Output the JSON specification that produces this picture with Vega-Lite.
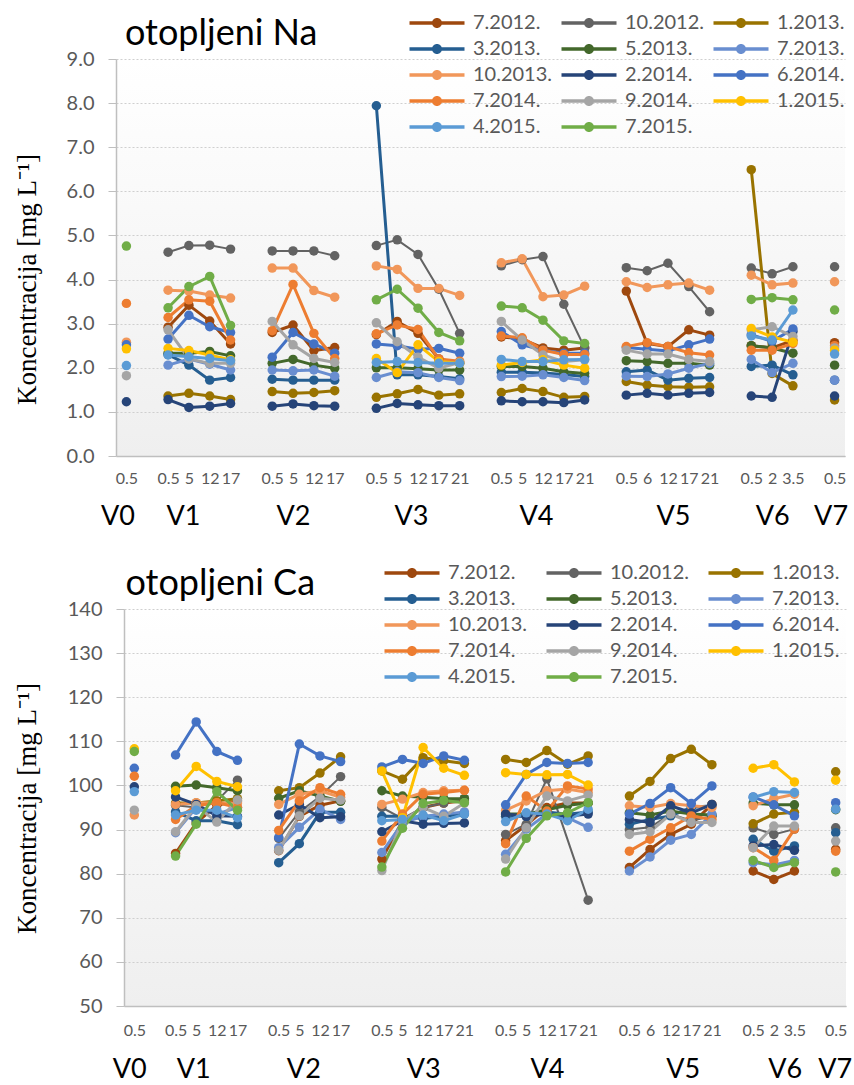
{
  "$schema": "https://vega.github.io/schema/vega-lite/v6.json",
  "background": "white",
  "padding": {"left": 12, "top": 13, "right": 0, "bottom": 0},
  "spacing": 34,
  "resolve": {"legend": {"color": "independent"}},
  "config": {
    "font": "Lato",
    "view": {"stroke": null},
    "legend": {"padding": 0, "offset": 0},
    "title": {"fontWeight": "normal"}
  },
  "datasets": {
    "na": [
      {"s":"7.2012.","g":"V1","x":"V1 0.5","v":2.92},{"s":"7.2012.","g":"V1","x":"V1 5","v":3.42},{"s":"7.2012.","g":"V1","x":"V1 12","v":3.06},{"s":"7.2012.","g":"V1","x":"V1 17","v":2.54},
      {"s":"7.2012.","g":"V2","x":"V2 0.5","v":2.8},{"s":"7.2012.","g":"V2","x":"V2 5","v":2.97},{"s":"7.2012.","g":"V2","x":"V2 12","v":2.39},{"s":"7.2012.","g":"V2","x":"V2 17","v":2.46},
      {"s":"7.2012.","g":"V3","x":"V3 0.5","v":2.75},{"s":"7.2012.","g":"V3","x":"V3 5","v":3.05},{"s":"7.2012.","g":"V3","x":"V3 12","v":2.78},{"s":"7.2012.","g":"V3","x":"V3 17","v":2.2},{"s":"7.2012.","g":"V3","x":"V3 21","v":2.1},
      {"s":"7.2012.","g":"V4","x":"V4 0.5","v":2.7},{"s":"7.2012.","g":"V4","x":"V4 5","v":2.65},{"s":"7.2012.","g":"V4","x":"V4 12","v":2.45},{"s":"7.2012.","g":"V4","x":"V4 17","v":2.4},{"s":"7.2012.","g":"V4","x":"V4 21","v":2.45},
      {"s":"7.2012.","g":"V5","x":"V5 0.5","v":3.74},{"s":"7.2012.","g":"V5","x":"V5 6","v":2.55},{"s":"7.2012.","g":"V5","x":"V5 12","v":2.48},{"s":"7.2012.","g":"V5","x":"V5 17","v":2.86},{"s":"7.2012.","g":"V5","x":"V5 21","v":2.74},
      {"s":"7.2012.","g":"V6","x":"V6 0.5","v":2.5},{"s":"7.2012.","g":"V6","x":"V6 2","v":2.45},{"s":"7.2012.","g":"V6","x":"V6 3.5","v":2.62},
      {"s":"7.2012.","g":"V7","x":"V7 0.5","v":2.57},

      {"s":"10.2012.","g":"V1","x":"V1 0.5","v":4.62},{"s":"10.2012.","g":"V1","x":"V1 5","v":4.77},{"s":"10.2012.","g":"V1","x":"V1 12","v":4.78},{"s":"10.2012.","g":"V1","x":"V1 17","v":4.69},
      {"s":"10.2012.","g":"V2","x":"V2 0.5","v":4.65},{"s":"10.2012.","g":"V2","x":"V2 5","v":4.65},{"s":"10.2012.","g":"V2","x":"V2 12","v":4.65},{"s":"10.2012.","g":"V2","x":"V2 17","v":4.54},
      {"s":"10.2012.","g":"V3","x":"V3 0.5","v":4.77},{"s":"10.2012.","g":"V3","x":"V3 5","v":4.9},{"s":"10.2012.","g":"V3","x":"V3 12","v":4.57},{"s":"10.2012.","g":"V3","x":"V3 17","v":3.78},{"s":"10.2012.","g":"V3","x":"V3 21","v":2.78},
      {"s":"10.2012.","g":"V4","x":"V4 0.5","v":4.31},{"s":"10.2012.","g":"V4","x":"V4 5","v":4.45},{"s":"10.2012.","g":"V4","x":"V4 12","v":4.52},{"s":"10.2012.","g":"V4","x":"V4 17","v":3.44},{"s":"10.2012.","g":"V4","x":"V4 21","v":2.45},
      {"s":"10.2012.","g":"V5","x":"V5 0.5","v":4.27},{"s":"10.2012.","g":"V5","x":"V5 6","v":4.2},{"s":"10.2012.","g":"V5","x":"V5 12","v":4.37},{"s":"10.2012.","g":"V5","x":"V5 17","v":3.84},{"s":"10.2012.","g":"V5","x":"V5 21","v":3.27},
      {"s":"10.2012.","g":"V6","x":"V6 0.5","v":4.26},{"s":"10.2012.","g":"V6","x":"V6 2","v":4.13},{"s":"10.2012.","g":"V6","x":"V6 3.5","v":4.29},
      {"s":"10.2012.","g":"V7","x":"V7 0.5","v":4.29},

      {"s":"1.2013.","g":"V1","x":"V1 0.5","v":1.36},{"s":"1.2013.","g":"V1","x":"V1 5","v":1.42},{"s":"1.2013.","g":"V1","x":"V1 12","v":1.36},{"s":"1.2013.","g":"V1","x":"V1 17","v":1.28},
      {"s":"1.2013.","g":"V2","x":"V2 0.5","v":1.46},{"s":"1.2013.","g":"V2","x":"V2 5","v":1.42},{"s":"1.2013.","g":"V2","x":"V2 12","v":1.44},{"s":"1.2013.","g":"V2","x":"V2 17","v":1.48},
      {"s":"1.2013.","g":"V3","x":"V3 0.5","v":1.33},{"s":"1.2013.","g":"V3","x":"V3 5","v":1.41},{"s":"1.2013.","g":"V3","x":"V3 12","v":1.51},{"s":"1.2013.","g":"V3","x":"V3 17","v":1.38},{"s":"1.2013.","g":"V3","x":"V3 21","v":1.41},
      {"s":"1.2013.","g":"V4","x":"V4 0.5","v":1.44},{"s":"1.2013.","g":"V4","x":"V4 5","v":1.53},{"s":"1.2013.","g":"V4","x":"V4 12","v":1.46},{"s":"1.2013.","g":"V4","x":"V4 17","v":1.33},{"s":"1.2013.","g":"V4","x":"V4 21","v":1.35},
      {"s":"1.2013.","g":"V5","x":"V5 0.5","v":1.69},{"s":"1.2013.","g":"V5","x":"V5 6","v":1.61},{"s":"1.2013.","g":"V5","x":"V5 12","v":1.57},{"s":"1.2013.","g":"V5","x":"V5 17","v":1.56},{"s":"1.2013.","g":"V5","x":"V5 21","v":1.57},
      {"s":"1.2013.","g":"V6","x":"V6 0.5","v":6.49},{"s":"1.2013.","g":"V6","x":"V6 2","v":1.87},{"s":"1.2013.","g":"V6","x":"V6 3.5","v":1.59},
      {"s":"1.2013.","g":"V7","x":"V7 0.5","v":1.27},

      {"s":"3.2013.","g":"V1","x":"V1 0.5","v":2.3},{"s":"3.2013.","g":"V1","x":"V1 5","v":2.06},{"s":"3.2013.","g":"V1","x":"V1 12","v":1.72},{"s":"3.2013.","g":"V1","x":"V1 17","v":1.78},
      {"s":"3.2013.","g":"V2","x":"V2 0.5","v":1.74},{"s":"3.2013.","g":"V2","x":"V2 5","v":1.72},{"s":"3.2013.","g":"V2","x":"V2 12","v":1.72},{"s":"3.2013.","g":"V2","x":"V2 17","v":1.72},
      {"s":"3.2013.","g":"V3","x":"V3 0.5","v":7.94},{"s":"3.2013.","g":"V3","x":"V3 5","v":1.84},{"s":"3.2013.","g":"V3","x":"V3 12","v":1.84},{"s":"3.2013.","g":"V3","x":"V3 17","v":1.8},{"s":"3.2013.","g":"V3","x":"V3 21","v":1.75},
      {"s":"3.2013.","g":"V4","x":"V4 0.5","v":1.9},{"s":"3.2013.","g":"V4","x":"V4 5","v":1.9},{"s":"3.2013.","g":"V4","x":"V4 12","v":1.88},{"s":"3.2013.","g":"V4","x":"V4 17","v":1.85},{"s":"3.2013.","g":"V4","x":"V4 21","v":1.8},
      {"s":"3.2013.","g":"V5","x":"V5 0.5","v":1.91},{"s":"3.2013.","g":"V5","x":"V5 6","v":1.95},{"s":"3.2013.","g":"V5","x":"V5 12","v":1.72},{"s":"3.2013.","g":"V5","x":"V5 17","v":1.76},{"s":"3.2013.","g":"V5","x":"V5 21","v":1.78},
      {"s":"3.2013.","g":"V6","x":"V6 0.5","v":2.03},{"s":"3.2013.","g":"V6","x":"V6 2","v":2.06},{"s":"3.2013.","g":"V6","x":"V6 3.5","v":1.84},
      {"s":"3.2013.","g":"V7","x":"V7 0.5","v":1.72},

      {"s":"5.2013.","g":"V1","x":"V1 0.5","v":2.33},{"s":"5.2013.","g":"V1","x":"V1 5","v":2.33},{"s":"5.2013.","g":"V1","x":"V1 12","v":2.37},{"s":"5.2013.","g":"V1","x":"V1 17","v":2.27},
      {"s":"5.2013.","g":"V2","x":"V2 0.5","v":2.1},{"s":"5.2013.","g":"V2","x":"V2 5","v":2.19},{"s":"5.2013.","g":"V2","x":"V2 12","v":2.06},{"s":"5.2013.","g":"V2","x":"V2 17","v":1.99},
      {"s":"5.2013.","g":"V3","x":"V3 0.5","v":2.0},{"s":"5.2013.","g":"V3","x":"V3 5","v":2.0},{"s":"5.2013.","g":"V3","x":"V3 12","v":1.98},{"s":"5.2013.","g":"V3","x":"V3 17","v":1.95},{"s":"5.2013.","g":"V3","x":"V3 21","v":1.95},
      {"s":"5.2013.","g":"V4","x":"V4 0.5","v":2.03},{"s":"5.2013.","g":"V4","x":"V4 5","v":2.03},{"s":"5.2013.","g":"V4","x":"V4 12","v":1.99},{"s":"5.2013.","g":"V4","x":"V4 17","v":1.91},{"s":"5.2013.","g":"V4","x":"V4 21","v":1.87},
      {"s":"5.2013.","g":"V5","x":"V5 0.5","v":2.16},{"s":"5.2013.","g":"V5","x":"V5 6","v":2.14},{"s":"5.2013.","g":"V5","x":"V5 12","v":2.1},{"s":"5.2013.","g":"V5","x":"V5 17","v":2.1},{"s":"5.2013.","g":"V5","x":"V5 21","v":2.06},
      {"s":"5.2013.","g":"V6","x":"V6 0.5","v":2.5},{"s":"5.2013.","g":"V6","x":"V6 2","v":2.45},{"s":"5.2013.","g":"V6","x":"V6 3.5","v":2.33},
      {"s":"5.2013.","g":"V7","x":"V7 0.5","v":2.06},

      {"s":"7.2013.","g":"V1","x":"V1 0.5","v":2.06},{"s":"7.2013.","g":"V1","x":"V1 5","v":2.2},{"s":"7.2013.","g":"V1","x":"V1 12","v":2.08},{"s":"7.2013.","g":"V1","x":"V1 17","v":1.95},
      {"s":"7.2013.","g":"V2","x":"V2 0.5","v":1.95},{"s":"7.2013.","g":"V2","x":"V2 5","v":1.93},{"s":"7.2013.","g":"V2","x":"V2 12","v":1.95},{"s":"7.2013.","g":"V2","x":"V2 17","v":1.81},
      {"s":"7.2013.","g":"V3","x":"V3 0.5","v":1.78},{"s":"7.2013.","g":"V3","x":"V3 5","v":1.91},{"s":"7.2013.","g":"V3","x":"V3 12","v":1.89},{"s":"7.2013.","g":"V3","x":"V3 17","v":1.78},{"s":"7.2013.","g":"V3","x":"V3 21","v":1.71},
      {"s":"7.2013.","g":"V4","x":"V4 0.5","v":1.8},{"s":"7.2013.","g":"V4","x":"V4 5","v":1.81},{"s":"7.2013.","g":"V4","x":"V4 12","v":1.84},{"s":"7.2013.","g":"V4","x":"V4 17","v":1.78},{"s":"7.2013.","g":"V4","x":"V4 21","v":1.71},
      {"s":"7.2013.","g":"V5","x":"V5 0.5","v":1.81},{"s":"7.2013.","g":"V5","x":"V5 6","v":1.8},{"s":"7.2013.","g":"V5","x":"V5 12","v":1.86},{"s":"7.2013.","g":"V5","x":"V5 17","v":1.99},{"s":"7.2013.","g":"V5","x":"V5 21","v":2.1},
      {"s":"7.2013.","g":"V6","x":"V6 0.5","v":2.19},{"s":"7.2013.","g":"V6","x":"V6 2","v":1.89},{"s":"7.2013.","g":"V6","x":"V6 3.5","v":2.1},
      {"s":"7.2013.","g":"V7","x":"V7 0.5","v":1.72},

      {"s":"10.2013.","g":"V0","x":"V0 0.5","v":2.58},
      {"s":"10.2013.","g":"V1","x":"V1 0.5","v":3.76},{"s":"10.2013.","g":"V1","x":"V1 5","v":3.74},{"s":"10.2013.","g":"V1","x":"V1 12","v":3.65},{"s":"10.2013.","g":"V1","x":"V1 17","v":3.58},
      {"s":"10.2013.","g":"V2","x":"V2 0.5","v":4.26},{"s":"10.2013.","g":"V2","x":"V2 5","v":4.26},{"s":"10.2013.","g":"V2","x":"V2 12","v":3.75},{"s":"10.2013.","g":"V2","x":"V2 17","v":3.6},
      {"s":"10.2013.","g":"V3","x":"V3 0.5","v":4.31},{"s":"10.2013.","g":"V3","x":"V3 5","v":4.23},{"s":"10.2013.","g":"V3","x":"V3 12","v":3.8},{"s":"10.2013.","g":"V3","x":"V3 17","v":3.8},{"s":"10.2013.","g":"V3","x":"V3 21","v":3.64},
      {"s":"10.2013.","g":"V4","x":"V4 0.5","v":4.38},{"s":"10.2013.","g":"V4","x":"V4 5","v":4.47},{"s":"10.2013.","g":"V4","x":"V4 12","v":3.61},{"s":"10.2013.","g":"V4","x":"V4 17","v":3.65},{"s":"10.2013.","g":"V4","x":"V4 21","v":3.85},
      {"s":"10.2013.","g":"V5","x":"V5 0.5","v":3.95},{"s":"10.2013.","g":"V5","x":"V5 6","v":3.82},{"s":"10.2013.","g":"V5","x":"V5 12","v":3.88},{"s":"10.2013.","g":"V5","x":"V5 17","v":3.92},{"s":"10.2013.","g":"V5","x":"V5 21","v":3.76},
      {"s":"10.2013.","g":"V6","x":"V6 0.5","v":4.1},{"s":"10.2013.","g":"V6","x":"V6 2","v":3.88},{"s":"10.2013.","g":"V6","x":"V6 3.5","v":3.92},
      {"s":"10.2013.","g":"V7","x":"V7 0.5","v":3.95},

      {"s":"2.2014.","g":"V0","x":"V0 0.5","v":1.23},
      {"s":"2.2014.","g":"V1","x":"V1 0.5","v":1.28},{"s":"2.2014.","g":"V1","x":"V1 5","v":1.1},{"s":"2.2014.","g":"V1","x":"V1 12","v":1.13},{"s":"2.2014.","g":"V1","x":"V1 17","v":1.19},
      {"s":"2.2014.","g":"V2","x":"V2 0.5","v":1.13},{"s":"2.2014.","g":"V2","x":"V2 5","v":1.18},{"s":"2.2014.","g":"V2","x":"V2 12","v":1.14},{"s":"2.2014.","g":"V2","x":"V2 17","v":1.13},
      {"s":"2.2014.","g":"V3","x":"V3 0.5","v":1.08},{"s":"2.2014.","g":"V3","x":"V3 5","v":1.19},{"s":"2.2014.","g":"V3","x":"V3 12","v":1.16},{"s":"2.2014.","g":"V3","x":"V3 17","v":1.14},{"s":"2.2014.","g":"V3","x":"V3 21","v":1.14},
      {"s":"2.2014.","g":"V4","x":"V4 0.5","v":1.25},{"s":"2.2014.","g":"V4","x":"V4 5","v":1.23},{"s":"2.2014.","g":"V4","x":"V4 12","v":1.23},{"s":"2.2014.","g":"V4","x":"V4 17","v":1.21},{"s":"2.2014.","g":"V4","x":"V4 21","v":1.27},
      {"s":"2.2014.","g":"V5","x":"V5 0.5","v":1.38},{"s":"2.2014.","g":"V5","x":"V5 6","v":1.42},{"s":"2.2014.","g":"V5","x":"V5 12","v":1.38},{"s":"2.2014.","g":"V5","x":"V5 17","v":1.42},{"s":"2.2014.","g":"V5","x":"V5 21","v":1.44},
      {"s":"2.2014.","g":"V6","x":"V6 0.5","v":1.36},{"s":"2.2014.","g":"V6","x":"V6 2","v":1.33},{"s":"2.2014.","g":"V6","x":"V6 3.5","v":2.82},
      {"s":"2.2014.","g":"V7","x":"V7 0.5","v":1.36},

      {"s":"6.2014.","g":"V0","x":"V0 0.5","v":2.52},
      {"s":"6.2014.","g":"V1","x":"V1 0.5","v":2.65},{"s":"6.2014.","g":"V1","x":"V1 5","v":3.19},{"s":"6.2014.","g":"V1","x":"V1 12","v":2.93},{"s":"6.2014.","g":"V1","x":"V1 17","v":2.8},
      {"s":"6.2014.","g":"V2","x":"V2 0.5","v":2.24},{"s":"6.2014.","g":"V2","x":"V2 5","v":2.8},{"s":"6.2014.","g":"V2","x":"V2 12","v":2.54},{"s":"6.2014.","g":"V2","x":"V2 17","v":2.33},
      {"s":"6.2014.","g":"V3","x":"V3 0.5","v":2.54},{"s":"6.2014.","g":"V3","x":"V3 5","v":2.5},{"s":"6.2014.","g":"V3","x":"V3 12","v":2.42},{"s":"6.2014.","g":"V3","x":"V3 17","v":2.44},{"s":"6.2014.","g":"V3","x":"V3 21","v":2.33},
      {"s":"6.2014.","g":"V4","x":"V4 0.5","v":2.82},{"s":"6.2014.","g":"V4","x":"V4 5","v":2.52},{"s":"6.2014.","g":"V4","x":"V4 12","v":2.4},{"s":"6.2014.","g":"V4","x":"V4 17","v":2.33},{"s":"6.2014.","g":"V4","x":"V4 21","v":2.33},
      {"s":"6.2014.","g":"V5","x":"V5 0.5","v":2.46},{"s":"6.2014.","g":"V5","x":"V5 6","v":2.42},{"s":"6.2014.","g":"V5","x":"V5 12","v":2.38},{"s":"6.2014.","g":"V5","x":"V5 17","v":2.52},{"s":"6.2014.","g":"V5","x":"V5 21","v":2.65},
      {"s":"6.2014.","g":"V6","x":"V6 0.5","v":2.75},{"s":"6.2014.","g":"V6","x":"V6 2","v":2.6},{"s":"6.2014.","g":"V6","x":"V6 3.5","v":2.88},

      {"s":"7.2014.","g":"V0","x":"V0 0.5","v":3.46},
      {"s":"7.2014.","g":"V1","x":"V1 0.5","v":3.14},{"s":"7.2014.","g":"V1","x":"V1 5","v":3.54},{"s":"7.2014.","g":"V1","x":"V1 12","v":3.51},{"s":"7.2014.","g":"V1","x":"V1 17","v":2.63},
      {"s":"7.2014.","g":"V2","x":"V2 0.5","v":2.84},{"s":"7.2014.","g":"V2","x":"V2 5","v":3.89},{"s":"7.2014.","g":"V2","x":"V2 12","v":2.78},{"s":"7.2014.","g":"V2","x":"V2 17","v":2.21},
      {"s":"7.2014.","g":"V3","x":"V3 0.5","v":2.77},{"s":"7.2014.","g":"V3","x":"V3 5","v":2.97},{"s":"7.2014.","g":"V3","x":"V3 12","v":2.87},{"s":"7.2014.","g":"V3","x":"V3 17","v":2.2},{"s":"7.2014.","g":"V3","x":"V3 21","v":2.15},
      {"s":"7.2014.","g":"V4","x":"V4 0.5","v":2.72},{"s":"7.2014.","g":"V4","x":"V4 5","v":2.68},{"s":"7.2014.","g":"V4","x":"V4 12","v":2.4},{"s":"7.2014.","g":"V4","x":"V4 17","v":2.3},{"s":"7.2014.","g":"V4","x":"V4 21","v":2.3},
      {"s":"7.2014.","g":"V5","x":"V5 0.5","v":2.48},{"s":"7.2014.","g":"V5","x":"V5 6","v":2.57},{"s":"7.2014.","g":"V5","x":"V5 12","v":2.48},{"s":"7.2014.","g":"V5","x":"V5 17","v":2.34},{"s":"7.2014.","g":"V5","x":"V5 21","v":2.29},
      {"s":"7.2014.","g":"V6","x":"V6 0.5","v":2.4},{"s":"7.2014.","g":"V6","x":"V6 2","v":2.4},{"s":"7.2014.","g":"V6","x":"V6 3.5","v":2.55},
      {"s":"7.2014.","g":"V7","x":"V7 0.5","v":2.5},

      {"s":"9.2014.","g":"V0","x":"V0 0.5","v":1.82},
      {"s":"9.2014.","g":"V1","x":"V1 0.5","v":2.86},{"s":"9.2014.","g":"V1","x":"V1 5","v":2.2},{"s":"9.2014.","g":"V1","x":"V1 12","v":2.1},{"s":"9.2014.","g":"V1","x":"V1 17","v":2.1},
      {"s":"9.2014.","g":"V2","x":"V2 0.5","v":3.05},{"s":"9.2014.","g":"V2","x":"V2 5","v":2.52},{"s":"9.2014.","g":"V2","x":"V2 12","v":2.21},{"s":"9.2014.","g":"V2","x":"V2 17","v":2.12},
      {"s":"9.2014.","g":"V3","x":"V3 0.5","v":3.02},{"s":"9.2014.","g":"V3","x":"V3 5","v":2.59},{"s":"9.2014.","g":"V3","x":"V3 12","v":2.24},{"s":"9.2014.","g":"V3","x":"V3 17","v":1.99},{"s":"9.2014.","g":"V3","x":"V3 21","v":2.12},
      {"s":"9.2014.","g":"V4","x":"V4 0.5","v":3.05},{"s":"9.2014.","g":"V4","x":"V4 5","v":2.63},{"s":"9.2014.","g":"V4","x":"V4 12","v":2.29},{"s":"9.2014.","g":"V4","x":"V4 17","v":2.14},{"s":"9.2014.","g":"V4","x":"V4 21","v":2.18},
      {"s":"9.2014.","g":"V5","x":"V5 0.5","v":2.4},{"s":"9.2014.","g":"V5","x":"V5 6","v":2.31},{"s":"9.2014.","g":"V5","x":"V5 12","v":2.31},{"s":"9.2014.","g":"V5","x":"V5 17","v":2.19},{"s":"9.2014.","g":"V5","x":"V5 21","v":2.14},
      {"s":"9.2014.","g":"V6","x":"V6 0.5","v":2.86},{"s":"9.2014.","g":"V6","x":"V6 2","v":2.93},{"s":"9.2014.","g":"V6","x":"V6 3.5","v":2.71},
      {"s":"9.2014.","g":"V7","x":"V7 0.5","v":2.45},

      {"s":"1.2015.","g":"V0","x":"V0 0.5","v":2.43},
      {"s":"1.2015.","g":"V1","x":"V1 0.5","v":2.44},{"s":"1.2015.","g":"V1","x":"V1 5","v":2.39},{"s":"1.2015.","g":"V1","x":"V1 12","v":2.29},{"s":"1.2015.","g":"V1","x":"V1 17","v":2.18},
      {"s":"1.2015.","g":"V3","x":"V3 0.5","v":2.21},{"s":"1.2015.","g":"V3","x":"V3 5","v":1.89},{"s":"1.2015.","g":"V3","x":"V3 12","v":2.52},{"s":"1.2015.","g":"V3","x":"V3 17","v":2.14},{"s":"1.2015.","g":"V3","x":"V3 21","v":2.1},
      {"s":"1.2015.","g":"V4","x":"V4 0.5","v":2.06},{"s":"1.2015.","g":"V4","x":"V4 5","v":2.12},{"s":"1.2015.","g":"V4","x":"V4 12","v":2.18},{"s":"1.2015.","g":"V4","x":"V4 17","v":2.06},{"s":"1.2015.","g":"V4","x":"V4 21","v":1.99},
      {"s":"1.2015.","g":"V6","x":"V6 0.5","v":2.89},{"s":"1.2015.","g":"V6","x":"V6 2","v":2.7},{"s":"1.2015.","g":"V6","x":"V6 3.5","v":2.58},
      {"s":"1.2015.","g":"V7","x":"V7 0.5","v":2.4},

      {"s":"4.2015.","g":"V0","x":"V0 0.5","v":2.05},
      {"s":"4.2015.","g":"V1","x":"V1 0.5","v":2.29},{"s":"4.2015.","g":"V1","x":"V1 5","v":2.25},{"s":"4.2015.","g":"V1","x":"V1 12","v":2.21},{"s":"4.2015.","g":"V1","x":"V1 17","v":2.16},
      {"s":"4.2015.","g":"V3","x":"V3 0.5","v":2.12},{"s":"4.2015.","g":"V3","x":"V3 5","v":2.14},{"s":"4.2015.","g":"V3","x":"V3 12","v":2.12},{"s":"4.2015.","g":"V3","x":"V3 17","v":2.1},{"s":"4.2015.","g":"V3","x":"V3 21","v":2.1},
      {"s":"4.2015.","g":"V4","x":"V4 0.5","v":2.19},{"s":"4.2015.","g":"V4","x":"V4 5","v":2.14},{"s":"4.2015.","g":"V4","x":"V4 12","v":2.14},{"s":"4.2015.","g":"V4","x":"V4 17","v":2.18},{"s":"4.2015.","g":"V4","x":"V4 21","v":2.19},
      {"s":"4.2015.","g":"V6","x":"V6 0.5","v":2.72},{"s":"4.2015.","g":"V6","x":"V6 2","v":2.63},{"s":"4.2015.","g":"V6","x":"V6 3.5","v":3.31},
      {"s":"4.2015.","g":"V7","x":"V7 0.5","v":2.31},

      {"s":"7.2015.","g":"V0","x":"V0 0.5","v":4.76},
      {"s":"7.2015.","g":"V1","x":"V1 0.5","v":3.36},{"s":"7.2015.","g":"V1","x":"V1 5","v":3.84},{"s":"7.2015.","g":"V1","x":"V1 12","v":4.07},{"s":"7.2015.","g":"V1","x":"V1 17","v":2.96},
      {"s":"7.2015.","g":"V3","x":"V3 0.5","v":3.54},{"s":"7.2015.","g":"V3","x":"V3 5","v":3.78},{"s":"7.2015.","g":"V3","x":"V3 12","v":3.35},{"s":"7.2015.","g":"V3","x":"V3 17","v":2.8},{"s":"7.2015.","g":"V3","x":"V3 21","v":2.61},
      {"s":"7.2015.","g":"V4","x":"V4 0.5","v":3.4},{"s":"7.2015.","g":"V4","x":"V4 5","v":3.36},{"s":"7.2015.","g":"V4","x":"V4 12","v":3.08},{"s":"7.2015.","g":"V4","x":"V4 17","v":2.61},{"s":"7.2015.","g":"V4","x":"V4 21","v":2.55},
      {"s":"7.2015.","g":"V6","x":"V6 0.5","v":3.55},{"s":"7.2015.","g":"V6","x":"V6 2","v":3.59},{"s":"7.2015.","g":"V6","x":"V6 3.5","v":3.54},
      {"s":"7.2015.","g":"V7","x":"V7 0.5","v":3.31}
    ],
    "ca": [
      {"s":"7.2012.","g":"V1","x":"V1 0.5","v":84.6},{"s":"7.2012.","g":"V1","x":"V1 5","v":91.5},{"s":"7.2012.","g":"V1","x":"V1 12","v":95.5},{"s":"7.2012.","g":"V1","x":"V1 17","v":96.5},
      {"s":"7.2012.","g":"V2","x":"V2 0.5","v":85.2},{"s":"7.2012.","g":"V2","x":"V2 5","v":93},{"s":"7.2012.","g":"V2","x":"V2 12","v":95.5},{"s":"7.2012.","g":"V2","x":"V2 17","v":96.5},
      {"s":"7.2012.","g":"V3","x":"V3 0.5","v":83.3},{"s":"7.2012.","g":"V3","x":"V3 5","v":92},{"s":"7.2012.","g":"V3","x":"V3 12","v":95},{"s":"7.2012.","g":"V3","x":"V3 17","v":96},{"s":"7.2012.","g":"V3","x":"V3 21","v":96.5},
      {"s":"7.2012.","g":"V4","x":"V4 0.5","v":87.5},{"s":"7.2012.","g":"V4","x":"V4 5","v":91},{"s":"7.2012.","g":"V4","x":"V4 12","v":95},{"s":"7.2012.","g":"V4","x":"V4 17","v":96},{"s":"7.2012.","g":"V4","x":"V4 21","v":96},
      {"s":"7.2012.","g":"V5","x":"V5 0.5","v":81.4},{"s":"7.2012.","g":"V5","x":"V5 6","v":85.5},{"s":"7.2012.","g":"V5","x":"V5 12","v":88.9},{"s":"7.2012.","g":"V5","x":"V5 17","v":91.2},{"s":"7.2012.","g":"V5","x":"V5 21","v":95.7},
      {"s":"7.2012.","g":"V6","x":"V6 0.5","v":80.6},{"s":"7.2012.","g":"V6","x":"V6 2","v":78.7},{"s":"7.2012.","g":"V6","x":"V6 3.5","v":80.6},
      {"s":"7.2012.","g":"V7","x":"V7 0.5","v":85.5},

      {"s":"10.2012.","g":"V1","x":"V1 0.5","v":95.5},{"s":"10.2012.","g":"V1","x":"V1 5","v":95},{"s":"10.2012.","g":"V1","x":"V1 12","v":96.5},{"s":"10.2012.","g":"V1","x":"V1 17","v":101.2},
      {"s":"10.2012.","g":"V2","x":"V2 0.5","v":88},{"s":"10.2012.","g":"V2","x":"V2 5","v":94},{"s":"10.2012.","g":"V2","x":"V2 12","v":97.5},{"s":"10.2012.","g":"V2","x":"V2 17","v":102},
      {"s":"10.2012.","g":"V3","x":"V3 0.5","v":95},{"s":"10.2012.","g":"V3","x":"V3 5","v":92.5},{"s":"10.2012.","g":"V3","x":"V3 12","v":95},{"s":"10.2012.","g":"V3","x":"V3 17","v":96},{"s":"10.2012.","g":"V3","x":"V3 21","v":97},
      {"s":"10.2012.","g":"V4","x":"V4 0.5","v":88.9},{"s":"10.2012.","g":"V4","x":"V4 5","v":91.2},{"s":"10.2012.","g":"V4","x":"V4 12","v":101.5},{"s":"10.2012.","g":"V4","x":"V4 21","v":74},
      {"s":"10.2012.","g":"V5","x":"V5 0.5","v":90},{"s":"10.2012.","g":"V5","x":"V5 6","v":90.5},{"s":"10.2012.","g":"V5","x":"V5 12","v":93.5},{"s":"10.2012.","g":"V5","x":"V5 17","v":92},{"s":"10.2012.","g":"V5","x":"V5 21","v":93},
      {"s":"10.2012.","g":"V6","x":"V6 0.5","v":90.4},{"s":"10.2012.","g":"V6","x":"V6 2","v":88.9},{"s":"10.2012.","g":"V6","x":"V6 3.5","v":90.1},
      {"s":"10.2012.","g":"V7","x":"V7 0.5","v":90.4},

      {"s":"1.2013.","g":"V1","x":"V1 0.5","v":96},{"s":"1.2013.","g":"V1","x":"V1 5","v":96},{"s":"1.2013.","g":"V1","x":"V1 12","v":96.5},{"s":"1.2013.","g":"V1","x":"V1 17","v":97},
      {"s":"1.2013.","g":"V2","x":"V2 0.5","v":98.8},{"s":"1.2013.","g":"V2","x":"V2 5","v":99.5},{"s":"1.2013.","g":"V2","x":"V2 12","v":102.8},{"s":"1.2013.","g":"V2","x":"V2 17","v":106.5},
      {"s":"1.2013.","g":"V3","x":"V3 0.5","v":103.3},{"s":"1.2013.","g":"V3","x":"V3 5","v":101.4},{"s":"1.2013.","g":"V3","x":"V3 12","v":106.3},{"s":"1.2013.","g":"V3","x":"V3 17","v":105.6},{"s":"1.2013.","g":"V3","x":"V3 21","v":105},
      {"s":"1.2013.","g":"V4","x":"V4 0.5","v":105.9},{"s":"1.2013.","g":"V4","x":"V4 5","v":105.2},{"s":"1.2013.","g":"V4","x":"V4 12","v":107.9},{"s":"1.2013.","g":"V4","x":"V4 17","v":104.8},{"s":"1.2013.","g":"V4","x":"V4 21","v":106.7},
      {"s":"1.2013.","g":"V5","x":"V5 0.5","v":97.6},{"s":"1.2013.","g":"V5","x":"V5 6","v":100.9},{"s":"1.2013.","g":"V5","x":"V5 12","v":106.1},{"s":"1.2013.","g":"V5","x":"V5 17","v":108.2},{"s":"1.2013.","g":"V5","x":"V5 21","v":104.7},
      {"s":"1.2013.","g":"V6","x":"V6 0.5","v":91.3},{"s":"1.2013.","g":"V6","x":"V6 2","v":93.5},{"s":"1.2013.","g":"V6","x":"V6 3.5","v":93.9},
      {"s":"1.2013.","g":"V7","x":"V7 0.5","v":103.1},

      {"s":"3.2013.","g":"V1","x":"V1 0.5","v":94},{"s":"3.2013.","g":"V1","x":"V1 5","v":92},{"s":"3.2013.","g":"V1","x":"V1 12","v":92},{"s":"3.2013.","g":"V1","x":"V1 17","v":91.1},
      {"s":"3.2013.","g":"V2","x":"V2 0.5","v":82.5},{"s":"3.2013.","g":"V2","x":"V2 5","v":86.8},{"s":"3.2013.","g":"V2","x":"V2 12","v":93.9},{"s":"3.2013.","g":"V2","x":"V2 17","v":93.9},
      {"s":"3.2013.","g":"V3","x":"V3 0.5","v":93},{"s":"3.2013.","g":"V3","x":"V3 5","v":93},{"s":"3.2013.","g":"V3","x":"V3 12","v":92.5},{"s":"3.2013.","g":"V3","x":"V3 17","v":93},{"s":"3.2013.","g":"V3","x":"V3 21","v":93.5},
      {"s":"3.2013.","g":"V4","x":"V4 0.5","v":93},{"s":"3.2013.","g":"V4","x":"V4 5","v":93},{"s":"3.2013.","g":"V4","x":"V4 12","v":94},{"s":"3.2013.","g":"V4","x":"V4 17","v":93.5},{"s":"3.2013.","g":"V4","x":"V4 21","v":94},
      {"s":"3.2013.","g":"V5","x":"V5 0.5","v":91.2},{"s":"3.2013.","g":"V5","x":"V5 6","v":92.3},{"s":"3.2013.","g":"V5","x":"V5 12","v":93.1},{"s":"3.2013.","g":"V5","x":"V5 17","v":95},{"s":"3.2013.","g":"V5","x":"V5 21","v":95.4},
      {"s":"3.2013.","g":"V6","x":"V6 0.5","v":87.8},{"s":"3.2013.","g":"V6","x":"V6 2","v":85.1},{"s":"3.2013.","g":"V6","x":"V6 3.5","v":86.3},
      {"s":"3.2013.","g":"V7","x":"V7 0.5","v":89.3},

      {"s":"5.2013.","g":"V1","x":"V1 0.5","v":99.8},{"s":"5.2013.","g":"V1","x":"V1 5","v":100.1},{"s":"5.2013.","g":"V1","x":"V1 12","v":99.5},{"s":"5.2013.","g":"V1","x":"V1 17","v":98.8},
      {"s":"5.2013.","g":"V2","x":"V2 0.5","v":97.1},{"s":"5.2013.","g":"V2","x":"V2 5","v":98.8},{"s":"5.2013.","g":"V2","x":"V2 12","v":97.6},{"s":"5.2013.","g":"V2","x":"V2 17","v":96.4},
      {"s":"5.2013.","g":"V3","x":"V3 0.5","v":98.8},{"s":"5.2013.","g":"V3","x":"V3 5","v":97.6},{"s":"5.2013.","g":"V3","x":"V3 12","v":97.3},{"s":"5.2013.","g":"V3","x":"V3 17","v":97},{"s":"5.2013.","g":"V3","x":"V3 21","v":97},
      {"s":"5.2013.","g":"V4","x":"V4 0.5","v":93.5},{"s":"5.2013.","g":"V4","x":"V4 5","v":93.5},{"s":"5.2013.","g":"V4","x":"V4 12","v":94.5},{"s":"5.2013.","g":"V4","x":"V4 17","v":95.5},{"s":"5.2013.","g":"V4","x":"V4 21","v":96},
      {"s":"5.2013.","g":"V5","x":"V5 0.5","v":93.8},{"s":"5.2013.","g":"V5","x":"V5 6","v":93.3},{"s":"5.2013.","g":"V5","x":"V5 12","v":94.2},{"s":"5.2013.","g":"V5","x":"V5 17","v":93.5},{"s":"5.2013.","g":"V5","x":"V5 21","v":93.3},
      {"s":"5.2013.","g":"V6","x":"V6 0.5","v":96},{"s":"5.2013.","g":"V6","x":"V6 2","v":95.6},{"s":"5.2013.","g":"V6","x":"V6 3.5","v":95.6},
      {"s":"5.2013.","g":"V7","x":"V7 0.5","v":94.5},

      {"s":"7.2013.","g":"V1","x":"V1 0.5","v":89.3},{"s":"7.2013.","g":"V1","x":"V1 5","v":95},{"s":"7.2013.","g":"V1","x":"V1 12","v":93.5},{"s":"7.2013.","g":"V1","x":"V1 17","v":95},
      {"s":"7.2013.","g":"V2","x":"V2 0.5","v":85.9},{"s":"7.2013.","g":"V2","x":"V2 5","v":90.5},{"s":"7.2013.","g":"V2","x":"V2 12","v":94.6},{"s":"7.2013.","g":"V2","x":"V2 17","v":92.3},
      {"s":"7.2013.","g":"V3","x":"V3 0.5","v":84.8},{"s":"7.2013.","g":"V3","x":"V3 5","v":91.5},{"s":"7.2013.","g":"V3","x":"V3 12","v":93},{"s":"7.2013.","g":"V3","x":"V3 17","v":93.5},{"s":"7.2013.","g":"V3","x":"V3 21","v":94},
      {"s":"7.2013.","g":"V4","x":"V4 0.5","v":84.4},{"s":"7.2013.","g":"V4","x":"V4 5","v":90.1},{"s":"7.2013.","g":"V4","x":"V4 12","v":93.5},{"s":"7.2013.","g":"V4","x":"V4 17","v":92.7},{"s":"7.2013.","g":"V4","x":"V4 21","v":90.5},
      {"s":"7.2013.","g":"V5","x":"V5 0.5","v":80.6},{"s":"7.2013.","g":"V5","x":"V5 6","v":83.8},{"s":"7.2013.","g":"V5","x":"V5 12","v":87.6},{"s":"7.2013.","g":"V5","x":"V5 17","v":88.9},{"s":"7.2013.","g":"V5","x":"V5 21","v":93.5},
      {"s":"7.2013.","g":"V6","x":"V6 0.5","v":82.5},{"s":"7.2013.","g":"V6","x":"V6 2","v":82},{"s":"7.2013.","g":"V6","x":"V6 3.5","v":83},

      {"s":"10.2013.","g":"V0","x":"V0 0.5","v":93.3},
      {"s":"10.2013.","g":"V1","x":"V1 0.5","v":95.7},{"s":"10.2013.","g":"V1","x":"V1 5","v":96.1},{"s":"10.2013.","g":"V1","x":"V1 12","v":96},{"s":"10.2013.","g":"V1","x":"V1 17","v":96},
      {"s":"10.2013.","g":"V2","x":"V2 0.5","v":95.7},{"s":"10.2013.","g":"V2","x":"V2 5","v":98},{"s":"10.2013.","g":"V2","x":"V2 12","v":98.8},{"s":"10.2013.","g":"V2","x":"V2 17","v":97.3},
      {"s":"10.2013.","g":"V3","x":"V3 0.5","v":95.7},{"s":"10.2013.","g":"V3","x":"V3 5","v":96.9},{"s":"10.2013.","g":"V3","x":"V3 12","v":98.4},{"s":"10.2013.","g":"V3","x":"V3 17","v":98.8},{"s":"10.2013.","g":"V3","x":"V3 21","v":98.9},
      {"s":"10.2013.","g":"V4","x":"V4 0.5","v":94.4},{"s":"10.2013.","g":"V4","x":"V4 5","v":96.5},{"s":"10.2013.","g":"V4","x":"V4 12","v":98.8},{"s":"10.2013.","g":"V4","x":"V4 17","v":99.2},{"s":"10.2013.","g":"V4","x":"V4 21","v":98.4},
      {"s":"10.2013.","g":"V5","x":"V5 0.5","v":95.4},{"s":"10.2013.","g":"V5","x":"V5 6","v":95},{"s":"10.2013.","g":"V5","x":"V5 12","v":95.9},{"s":"10.2013.","g":"V5","x":"V5 17","v":95.4},{"s":"10.2013.","g":"V5","x":"V5 21","v":95},
      {"s":"10.2013.","g":"V6","x":"V6 0.5","v":95.4},{"s":"10.2013.","g":"V6","x":"V6 2","v":97},{"s":"10.2013.","g":"V6","x":"V6 3.5","v":98},

      {"s":"2.2014.","g":"V0","x":"V0 0.5","v":99.7},
      {"s":"2.2014.","g":"V1","x":"V1 0.5","v":97.4},{"s":"2.2014.","g":"V1","x":"V1 5","v":95.7},{"s":"2.2014.","g":"V1","x":"V1 12","v":93.1},{"s":"2.2014.","g":"V1","x":"V1 17","v":93},
      {"s":"2.2014.","g":"V2","x":"V2 0.5","v":93.3},{"s":"2.2014.","g":"V2","x":"V2 5","v":95.7},{"s":"2.2014.","g":"V2","x":"V2 12","v":92.7},{"s":"2.2014.","g":"V2","x":"V2 17","v":92.9},
      {"s":"2.2014.","g":"V3","x":"V3 0.5","v":89.5},{"s":"2.2014.","g":"V3","x":"V3 5","v":92},{"s":"2.2014.","g":"V3","x":"V3 12","v":91.2},{"s":"2.2014.","g":"V3","x":"V3 17","v":91.4},{"s":"2.2014.","g":"V3","x":"V3 21","v":91.5},
      {"s":"2.2014.","g":"V4","x":"V4 0.5","v":93.5},{"s":"2.2014.","g":"V4","x":"V4 5","v":93},{"s":"2.2014.","g":"V4","x":"V4 12","v":93.5},{"s":"2.2014.","g":"V4","x":"V4 17","v":93},{"s":"2.2014.","g":"V4","x":"V4 21","v":93.5},
      {"s":"2.2014.","g":"V5","x":"V5 0.5","v":92.3},{"s":"2.2014.","g":"V5","x":"V5 6","v":91.6},{"s":"2.2014.","g":"V5","x":"V5 12","v":95.4},{"s":"2.2014.","g":"V5","x":"V5 17","v":93.8},{"s":"2.2014.","g":"V5","x":"V5 21","v":95.7},
      {"s":"2.2014.","g":"V6","x":"V6 0.5","v":86.3},{"s":"2.2014.","g":"V6","x":"V6 2","v":86.6},{"s":"2.2014.","g":"V6","x":"V6 3.5","v":85.3},

      {"s":"6.2014.","g":"V0","x":"V0 0.5","v":103.9},
      {"s":"6.2014.","g":"V1","x":"V1 0.5","v":106.9},{"s":"6.2014.","g":"V1","x":"V1 5","v":114.4},{"s":"6.2014.","g":"V1","x":"V1 12","v":107.7},{"s":"6.2014.","g":"V1","x":"V1 17","v":105.7},
      {"s":"6.2014.","g":"V2","x":"V2 0.5","v":88.2},{"s":"6.2014.","g":"V2","x":"V2 5","v":109.4},{"s":"6.2014.","g":"V2","x":"V2 12","v":106.7},{"s":"6.2014.","g":"V2","x":"V2 17","v":105.4},
      {"s":"6.2014.","g":"V3","x":"V3 0.5","v":104.2},{"s":"6.2014.","g":"V3","x":"V3 5","v":105.9},{"s":"6.2014.","g":"V3","x":"V3 12","v":105},{"s":"6.2014.","g":"V3","x":"V3 17","v":106.7},{"s":"6.2014.","g":"V3","x":"V3 21","v":105.7},
      {"s":"6.2014.","g":"V4","x":"V4 0.5","v":95.6},{"s":"6.2014.","g":"V4","x":"V4 5","v":102.5},{"s":"6.2014.","g":"V4","x":"V4 12","v":105.2},{"s":"6.2014.","g":"V4","x":"V4 17","v":105},{"s":"6.2014.","g":"V4","x":"V4 21","v":105.2},
      {"s":"6.2014.","g":"V5","x":"V5 0.5","v":93.5},{"s":"6.2014.","g":"V5","x":"V5 6","v":95.9},{"s":"6.2014.","g":"V5","x":"V5 12","v":99.5},{"s":"6.2014.","g":"V5","x":"V5 17","v":95.9},{"s":"6.2014.","g":"V5","x":"V5 21","v":99.9},
      {"s":"6.2014.","g":"V6","x":"V6 0.5","v":97.4},{"s":"6.2014.","g":"V6","x":"V6 2","v":95.6},{"s":"6.2014.","g":"V6","x":"V6 3.5","v":93.1},
      {"s":"6.2014.","g":"V7","x":"V7 0.5","v":96.1},

      {"s":"7.2014.","g":"V0","x":"V0 0.5","v":102.1},
      {"s":"7.2014.","g":"V1","x":"V1 0.5","v":92.3},{"s":"7.2014.","g":"V1","x":"V1 5","v":95.4},{"s":"7.2014.","g":"V1","x":"V1 12","v":96.1},{"s":"7.2014.","g":"V1","x":"V1 17","v":95},
      {"s":"7.2014.","g":"V2","x":"V2 0.5","v":89.8},{"s":"7.2014.","g":"V2","x":"V2 5","v":96.5},{"s":"7.2014.","g":"V2","x":"V2 12","v":99.5},{"s":"7.2014.","g":"V2","x":"V2 17","v":98},
      {"s":"7.2014.","g":"V3","x":"V3 0.5","v":87.4},{"s":"7.2014.","g":"V3","x":"V3 5","v":93.5},{"s":"7.2014.","g":"V3","x":"V3 12","v":98},{"s":"7.2014.","g":"V3","x":"V3 17","v":98.4},{"s":"7.2014.","g":"V3","x":"V3 21","v":98.9},
      {"s":"7.2014.","g":"V4","x":"V4 0.5","v":86.8},{"s":"7.2014.","g":"V4","x":"V4 5","v":97.6},{"s":"7.2014.","g":"V4","x":"V4 12","v":94.2},{"s":"7.2014.","g":"V4","x":"V4 17","v":99.9},{"s":"7.2014.","g":"V4","x":"V4 21","v":99.2},
      {"s":"7.2014.","g":"V5","x":"V5 0.5","v":85.1},{"s":"7.2014.","g":"V5","x":"V5 6","v":87.8},{"s":"7.2014.","g":"V5","x":"V5 12","v":90.4},{"s":"7.2014.","g":"V5","x":"V5 17","v":93.1},{"s":"7.2014.","g":"V5","x":"V5 21","v":92.3},
      {"s":"7.2014.","g":"V6","x":"V6 0.5","v":85.9},{"s":"7.2014.","g":"V6","x":"V6 2","v":83},{"s":"7.2014.","g":"V6","x":"V6 3.5","v":90.1},
      {"s":"7.2014.","g":"V7","x":"V7 0.5","v":85.1},

      {"s":"9.2014.","g":"V0","x":"V0 0.5","v":94.4},
      {"s":"9.2014.","g":"V1","x":"V1 0.5","v":89.5},{"s":"9.2014.","g":"V1","x":"V1 5","v":95.4},{"s":"9.2014.","g":"V1","x":"V1 12","v":91.7},{"s":"9.2014.","g":"V1","x":"V1 17","v":96.7},
      {"s":"9.2014.","g":"V2","x":"V2 0.5","v":85.3},{"s":"9.2014.","g":"V2","x":"V2 5","v":93.1},{"s":"9.2014.","g":"V2","x":"V2 12","v":97.1},{"s":"9.2014.","g":"V2","x":"V2 17","v":96.7},
      {"s":"9.2014.","g":"V3","x":"V3 0.5","v":80.7},{"s":"9.2014.","g":"V3","x":"V3 5","v":92},{"s":"9.2014.","g":"V3","x":"V3 12","v":95},{"s":"9.2014.","g":"V3","x":"V3 17","v":93},{"s":"9.2014.","g":"V3","x":"V3 21","v":96},
      {"s":"9.2014.","g":"V4","x":"V4 0.5","v":83.3},{"s":"9.2014.","g":"V4","x":"V4 5","v":90.4},{"s":"9.2014.","g":"V4","x":"V4 12","v":97.6},{"s":"9.2014.","g":"V4","x":"V4 17","v":96.5},{"s":"9.2014.","g":"V4","x":"V4 21","v":97.8},
      {"s":"9.2014.","g":"V5","x":"V5 0.5","v":88.9},{"s":"9.2014.","g":"V5","x":"V5 6","v":89.5},{"s":"9.2014.","g":"V5","x":"V5 12","v":93.5},{"s":"9.2014.","g":"V5","x":"V5 17","v":91.6},{"s":"9.2014.","g":"V5","x":"V5 21","v":91.6},
      {"s":"9.2014.","g":"V6","x":"V6 0.5","v":85.9},{"s":"9.2014.","g":"V6","x":"V6 2","v":90.8},{"s":"9.2014.","g":"V6","x":"V6 3.5","v":90.8},
      {"s":"9.2014.","g":"V7","x":"V7 0.5","v":87.4},

      {"s":"1.2015.","g":"V0","x":"V0 0.5","v":108.3},
      {"s":"1.2015.","g":"V1","x":"V1 0.5","v":98.8},{"s":"1.2015.","g":"V1","x":"V1 5","v":104.3},{"s":"1.2015.","g":"V1","x":"V1 12","v":100.9},{"s":"1.2015.","g":"V1","x":"V1 17","v":99.7},
      {"s":"1.2015.","g":"V3","x":"V3 0.5","v":103.3},{"s":"1.2015.","g":"V3","x":"V3 5","v":92.7},{"s":"1.2015.","g":"V3","x":"V3 12","v":108.6},{"s":"1.2015.","g":"V3","x":"V3 17","v":103.9},{"s":"1.2015.","g":"V3","x":"V3 21","v":102.3},
      {"s":"1.2015.","g":"V4","x":"V4 0.5","v":102.9},{"s":"1.2015.","g":"V4","x":"V4 5","v":102.5},{"s":"1.2015.","g":"V4","x":"V4 12","v":102.4},{"s":"1.2015.","g":"V4","x":"V4 17","v":102.5},{"s":"1.2015.","g":"V4","x":"V4 21","v":100.1},
      {"s":"1.2015.","g":"V6","x":"V6 0.5","v":103.9},{"s":"1.2015.","g":"V6","x":"V6 2","v":104.7},{"s":"1.2015.","g":"V6","x":"V6 3.5","v":100.8},
      {"s":"1.2015.","g":"V7","x":"V7 0.5","v":101.2},

      {"s":"4.2015.","g":"V0","x":"V0 0.5","v":98.6},
      {"s":"4.2015.","g":"V1","x":"V1 0.5","v":93.3},{"s":"4.2015.","g":"V1","x":"V1 5","v":94.4},{"s":"4.2015.","g":"V1","x":"V1 12","v":94.4},{"s":"4.2015.","g":"V1","x":"V1 17","v":92.7},
      {"s":"4.2015.","g":"V3","x":"V3 0.5","v":92},{"s":"4.2015.","g":"V3","x":"V3 5","v":92.3},{"s":"4.2015.","g":"V3","x":"V3 12","v":93.3},{"s":"4.2015.","g":"V3","x":"V3 17","v":92},{"s":"4.2015.","g":"V3","x":"V3 21","v":93.5},
      {"s":"4.2015.","g":"V4","x":"V4 0.5","v":91.8},{"s":"4.2015.","g":"V4","x":"V4 5","v":93.8},{"s":"4.2015.","g":"V4","x":"V4 12","v":93.5},{"s":"4.2015.","g":"V4","x":"V4 17","v":92},{"s":"4.2015.","g":"V4","x":"V4 21","v":94.6},
      {"s":"4.2015.","g":"V6","x":"V6 0.5","v":97.3},{"s":"4.2015.","g":"V6","x":"V6 2","v":98.6},{"s":"4.2015.","g":"V6","x":"V6 3.5","v":98.4},
      {"s":"4.2015.","g":"V7","x":"V7 0.5","v":94.6},

      {"s":"7.2015.","g":"V0","x":"V0 0.5","v":107.7},
      {"s":"7.2015.","g":"V1","x":"V1 0.5","v":84},{"s":"7.2015.","g":"V1","x":"V1 5","v":91.2},{"s":"7.2015.","g":"V1","x":"V1 12","v":98.6},{"s":"7.2015.","g":"V1","x":"V1 17","v":94.4},
      {"s":"7.2015.","g":"V3","x":"V3 0.5","v":81.5},{"s":"7.2015.","g":"V3","x":"V3 5","v":90.3},{"s":"7.2015.","g":"V3","x":"V3 12","v":95.9},{"s":"7.2015.","g":"V3","x":"V3 17","v":96.6},{"s":"7.2015.","g":"V3","x":"V3 21","v":96.1},
      {"s":"7.2015.","g":"V4","x":"V4 0.5","v":80.4},{"s":"7.2015.","g":"V4","x":"V4 5","v":88},{"s":"7.2015.","g":"V4","x":"V4 12","v":93.1},{"s":"7.2015.","g":"V4","x":"V4 17","v":93.8},{"s":"7.2015.","g":"V4","x":"V4 21","v":96.1},
      {"s":"7.2015.","g":"V6","x":"V6 0.5","v":83},{"s":"7.2015.","g":"V6","x":"V6 2","v":81.4},{"s":"7.2015.","g":"V6","x":"V6 3.5","v":82.5},
      {"s":"7.2015.","g":"V7","x":"V7 0.5","v":80.4}
    ]
  },
  "vconcat": [
    {
      "spacing": 0,
      "resolve": {"legend": {"color": "independent"}},
      "hconcat": [
        {"width": 1, "height": 1, "data": {"values": []}, "mark": {"type": "point", "opacity": 0}},
        {
          "width": 729,
          "height": 397,
          "data": {"name": "na"},
          "view": {"stroke": null, "fill": {"gradient": "linear", "x1": 0, "y1": 0, "x2": 0, "y2": 1, "stops": [{"offset": 0, "color": "#FFFFFF"}, {"offset": 1, "color": "#EFEFEF"}]}},
          "title": {"text": "otopljeni Na", "anchor": "start", "frame": "group", "fontSize": 36, "font": "Lato", "fontWeight": "normal", "color": "#000000", "dx": 9, "dy": 40, "offset": 0},
          "resolve": {"axis": {"x": "independent"}, "legend": {"color": "independent"}},
          "layer": [
            {
              "mark": {"type": "line"},
              "encoding": {
                "x": {"field": "x", "type": "ordinal", "sort": null,
                  "scale": {"type": "point", "padding": 0.5, "domain": ["V0 0.5","g1","V1 0.5","V1 5","V1 12","V1 17","g2","V2 0.5","V2 5","V2 12","V2 17","g3","V3 0.5","V3 5","V3 12","V3 17","V3 21","g4","V4 0.5","V4 5","V4 12","V4 17","V4 21","g5","V5 0.5","V5 6","V5 12","V5 17","V5 21","g6","V6 0.5","V6 2","V6 3.5","g7","V7 0.5"]},
                  "axis": {"orient": "bottom", "title": null, "labelExpr": "indexof(datum.value, ' ') > 0 ? split(datum.value, ' ')[1] : ''", "labelAngle": 0, "labelFont": "Lato", "labelFontSize": 16, "labelColor": "#595959", "labelPadding": 14, "ticks": false, "domain": true, "domainColor": "#BFBFBF", "domainWidth": 1.5, "grid": false, "labelOverlap": false, "labelBound": false}},
                "y": {"field": "v", "type": "quantitative", "scale": {"domain": [0, 9], "nice": false, "zero": false},
                  "axis": {"title": "Koncentracija [mg L⁻¹]", "titleFont": "Liberation Serif", "titleFontSize": 27, "titleFontWeight": "normal", "titleColor": "#000000", "titleX": -81, "titleY": 220, "titleAlign": "center", "titleBaseline": "alphabetic", "titleAngle": 270,
                    "values": [0,1,2,3,4,5,6,7,8,9], "format": ".1f", "labelFont": "Lato", "labelFontSize": 20, "labelColor": "#595959", "labelPadding": 14, "tickSize": 8, "tickColor": "#BFBFBF", "domainColor": "#BFBFBF", "domainWidth": 1.5, "grid": true, "gridColor": "#CFCFCF", "gridDash": [2, 2], "gridWidth": 1}},
                "stroke": {"field": "s", "type": "nominal", "legend": null,
                  "scale": {"domain": ["7.2012.","10.2012.","1.2013.","3.2013.","5.2013.","7.2013.","10.2013.","2.2014.","6.2014.","7.2014.","9.2014.","1.2015.","4.2015.","7.2015."], "range": ["#9E480E","#636363","#997300","#255E91","#43682B","#698ED0","#F1975A","#264478","#4472C4","#ED7D31","#A5A5A5","#FFC000","#5B9BD5","#70AD47"]}},
                "strokeWidth": {"condition": {"test": "datum.s == '10.2012.'", "value": 2}, "value": 3},
                "detail": {"field": "g", "type": "nominal"}
              }
            },
            {
              "mark": {"type": "point", "filled": true, "size": 90, "opacity": 1, "shape": "circle"},
              "encoding": {
                "x": {"field": "x", "type": "ordinal", "sort": null,
                  "scale": {"type": "point", "padding": 0.5, "domain": ["V0 0.5","g1","V1 0.5","V1 5","V1 12","V1 17","g2","V2 0.5","V2 5","V2 12","V2 17","g3","V3 0.5","V3 5","V3 12","V3 17","V3 21","g4","V4 0.5","V4 5","V4 12","V4 17","V4 21","g5","V5 0.5","V5 6","V5 12","V5 17","V5 21","g6","V6 0.5","V6 2","V6 3.5","g7","V7 0.5"]},
                  "axis": {"orient": "bottom", "title": null, "labelExpr": "datum.value == 'V0 0.5' ? 'V0' : datum.value == 'V1 5' ? 'V1' : datum.value == 'V2 5' ? 'V2' : datum.value == 'V3 12' ? 'V3' : datum.value == 'V4 12' ? 'V4' : datum.value == 'V5 12' ? 'V5' : datum.value == 'V6 2' ? 'V6' : datum.value == 'V7 0.5' ? 'V7' : ''", "labelAngle": 0, "labelFont": "Lato", "labelFontSize": 27, "labelColor": "#000000", "labelPadding": 47, "ticks": false, "domain": false, "grid": false, "labelOverlap": false, "labelBound": false,
                    "labelOffset": {"condition": [{"test": "datum.value == 'V0 0.5'", "value": -9}, {"test": "datum.value == 'V1 5'", "value": -6}, {"test": "datum.value == 'V3 12'", "value": -7}, {"test": "datum.value == 'V4 12'", "value": -7}, {"test": "datum.value == 'V5 12'", "value": 5}, {"test": "datum.value == 'V7 0.5'", "value": -4}], "value": 0}}},
                "y": {"field": "v", "type": "quantitative"},
                "color": {"field": "s", "type": "nominal",
                  "scale": {"domain": ["7.2012.","10.2012.","1.2013.","3.2013.","5.2013.","7.2013.","10.2013.","2.2014.","6.2014.","7.2014.","9.2014.","1.2015.","4.2015.","7.2015."], "range": ["#9E480E","#636363","#997300","#255E91","#43682B","#698ED0","#F1975A","#264478","#4472C4","#ED7D31","#A5A5A5","#FFC000","#5B9BD5","#70AD47"]},
                  "legend": {"title": null, "orient": "none", "legendX": 311, "legendY": -46, "columns": 3, "direction": "horizontal", "gridAlign": "all", "symbolType": "M-5.5,-0.35H5.5V0.35H-5.5Z M1,0A1,1,0,1,1,-1,0A1,1,0,1,1,1,0Z", "symbolSize": 100, "symbolStrokeWidth": 0, "symbolOpacity": 1, "labelFont": "Lato", "labelFontSize": 20, "labelColor": "#595959", "labelOffset": 26, "rowPadding": 6, "columnPadding": 8, "labelLimit": 0, "symbolLimit": 0}}
              }
            }
          ]
        }
      ]
    },
    {
      "spacing": 0,
      "resolve": {"legend": {"color": "independent"}},
      "hconcat": [
        {"width": 1, "height": 1, "data": {"values": []}, "mark": {"type": "point", "opacity": 0}},
        {
          "width": 722,
          "height": 397,
          "data": {"name": "ca"},
          "view": {"stroke": null, "fill": {"gradient": "linear", "x1": 0, "y1": 0, "x2": 0, "y2": 1, "stops": [{"offset": 0, "color": "#FFFFFF"}, {"offset": 1, "color": "#EFEFEF"}]}},
          "title": {"text": "otopljeni Ca", "anchor": "start", "frame": "group", "fontSize": 36, "font": "Lato", "fontWeight": "normal", "color": "#000000", "dx": 1.5, "dy": 40, "offset": 0},
          "resolve": {"axis": {"x": "independent"}, "legend": {"color": "independent"}},
          "layer": [
            {
              "mark": {"type": "line"},
              "encoding": {
                "x": {"field": "x", "type": "ordinal", "sort": null,
                  "scale": {"type": "point", "padding": 0.5, "domain": ["V0 0.5","g1","V1 0.5","V1 5","V1 12","V1 17","g2","V2 0.5","V2 5","V2 12","V2 17","g3","V3 0.5","V3 5","V3 12","V3 17","V3 21","g4","V4 0.5","V4 5","V4 12","V4 17","V4 21","g5","V5 0.5","V5 6","V5 12","V5 17","V5 21","g6","V6 0.5","V6 2","V6 3.5","g7","V7 0.5"]},
                  "axis": {"orient": "bottom", "title": null, "labelExpr": "indexof(datum.value, ' ') > 0 ? split(datum.value, ' ')[1] : ''", "labelAngle": 0, "labelFont": "Lato", "labelFontSize": 16, "labelColor": "#595959", "labelPadding": 16, "ticks": false, "domain": true, "domainColor": "#BFBFBF", "domainWidth": 1.5, "grid": false, "labelOverlap": false, "labelBound": false}},
                "y": {"field": "v", "type": "quantitative", "scale": {"domain": [50, 140], "nice": false, "zero": false},
                  "axis": {"title": "Koncentracija [mg L⁻¹]", "titleFont": "Liberation Serif", "titleFontSize": 27, "titleFontWeight": "normal", "titleColor": "#000000", "titleX": -89, "titleY": 199, "titleAlign": "center", "titleBaseline": "alphabetic", "titleAngle": 270,
                    "values": [50,60,70,80,90,100,110,120,130,140], "format": "d", "labelFont": "Lato", "labelFontSize": 20, "labelColor": "#595959", "labelPadding": 14, "tickSize": 8, "tickColor": "#BFBFBF", "domainColor": "#BFBFBF", "domainWidth": 1.5, "grid": true, "gridColor": "#CFCFCF", "gridDash": [2, 2], "gridWidth": 1}},
                "stroke": {"field": "s", "type": "nominal", "legend": null,
                  "scale": {"domain": ["7.2012.","10.2012.","1.2013.","3.2013.","5.2013.","7.2013.","10.2013.","2.2014.","6.2014.","7.2014.","9.2014.","1.2015.","4.2015.","7.2015."], "range": ["#9E480E","#636363","#997300","#255E91","#43682B","#698ED0","#F1975A","#264478","#4472C4","#ED7D31","#A5A5A5","#FFC000","#5B9BD5","#70AD47"]}},
                "strokeWidth": {"condition": {"test": "datum.s == '10.2012.'", "value": 2}, "value": 3},
                "detail": {"field": "g", "type": "nominal"}
              }
            },
            {
              "mark": {"type": "point", "filled": true, "size": 90, "opacity": 1, "shape": "circle"},
              "encoding": {
                "x": {"field": "x", "type": "ordinal", "sort": null,
                  "scale": {"type": "point", "padding": 0.5, "domain": ["V0 0.5","g1","V1 0.5","V1 5","V1 12","V1 17","g2","V2 0.5","V2 5","V2 12","V2 17","g3","V3 0.5","V3 5","V3 12","V3 17","V3 21","g4","V4 0.5","V4 5","V4 12","V4 17","V4 21","g5","V5 0.5","V5 6","V5 12","V5 17","V5 21","g6","V6 0.5","V6 2","V6 3.5","g7","V7 0.5"]},
                  "axis": {"orient": "bottom", "title": null, "labelExpr": "datum.value == 'V0 0.5' ? 'V0' : datum.value == 'V1 5' ? 'V1' : datum.value == 'V2 5' ? 'V2' : datum.value == 'V3 12' ? 'V3' : datum.value == 'V4 12' ? 'V4' : datum.value == 'V5 12' ? 'V5' : datum.value == 'V6 2' ? 'V6' : datum.value == 'V7 0.5' ? 'V7' : ''", "labelAngle": 0, "labelFont": "Lato", "labelFontSize": 27, "labelColor": "#000000", "labelPadding": 50, "ticks": false, "domain": false, "grid": false, "labelOverlap": false, "labelBound": false,
                    "labelOffset": {"condition": [{"test": "datum.value == 'V0 0.5'", "value": -5}, {"test": "datum.value == 'V1 5'", "value": -3}, {"test": "datum.value == 'V2 5'", "value": 4}, {"test": "datum.value == 'V5 12'", "value": 12}, {"test": "datum.value == 'V6 2'", "value": 11}, {"test": "datum.value == 'V7 0.5'", "value": -1}], "value": 0}}},
                "y": {"field": "v", "type": "quantitative"},
                "color": {"field": "s", "type": "nominal",
                  "scale": {"domain": ["7.2012.","10.2012.","1.2013.","3.2013.","5.2013.","7.2013.","10.2013.","2.2014.","6.2014.","7.2014.","9.2014.","1.2015.","4.2015.","7.2015."], "range": ["#9E480E","#636363","#997300","#255E91","#43682B","#698ED0","#F1975A","#264478","#4472C4","#ED7D31","#A5A5A5","#FFC000","#5B9BD5","#70AD47"]},
                  "legend": {"title": null, "orient": "none", "legendX": 278, "legendY": -46, "columns": 3, "direction": "horizontal", "gridAlign": "all", "symbolType": "M-5.5,-0.35H5.5V0.35H-5.5Z M1,0A1,1,0,1,1,-1,0A1,1,0,1,1,1,0Z", "symbolSize": 100, "symbolStrokeWidth": 0, "symbolOpacity": 1, "labelFont": "Lato", "labelFontSize": 20, "labelColor": "#595959", "labelOffset": 26, "rowPadding": 6, "columnPadding": 18, "labelLimit": 0, "symbolLimit": 0}}
              }
            }
          ]
        }
      ]
    }
  ]
}
